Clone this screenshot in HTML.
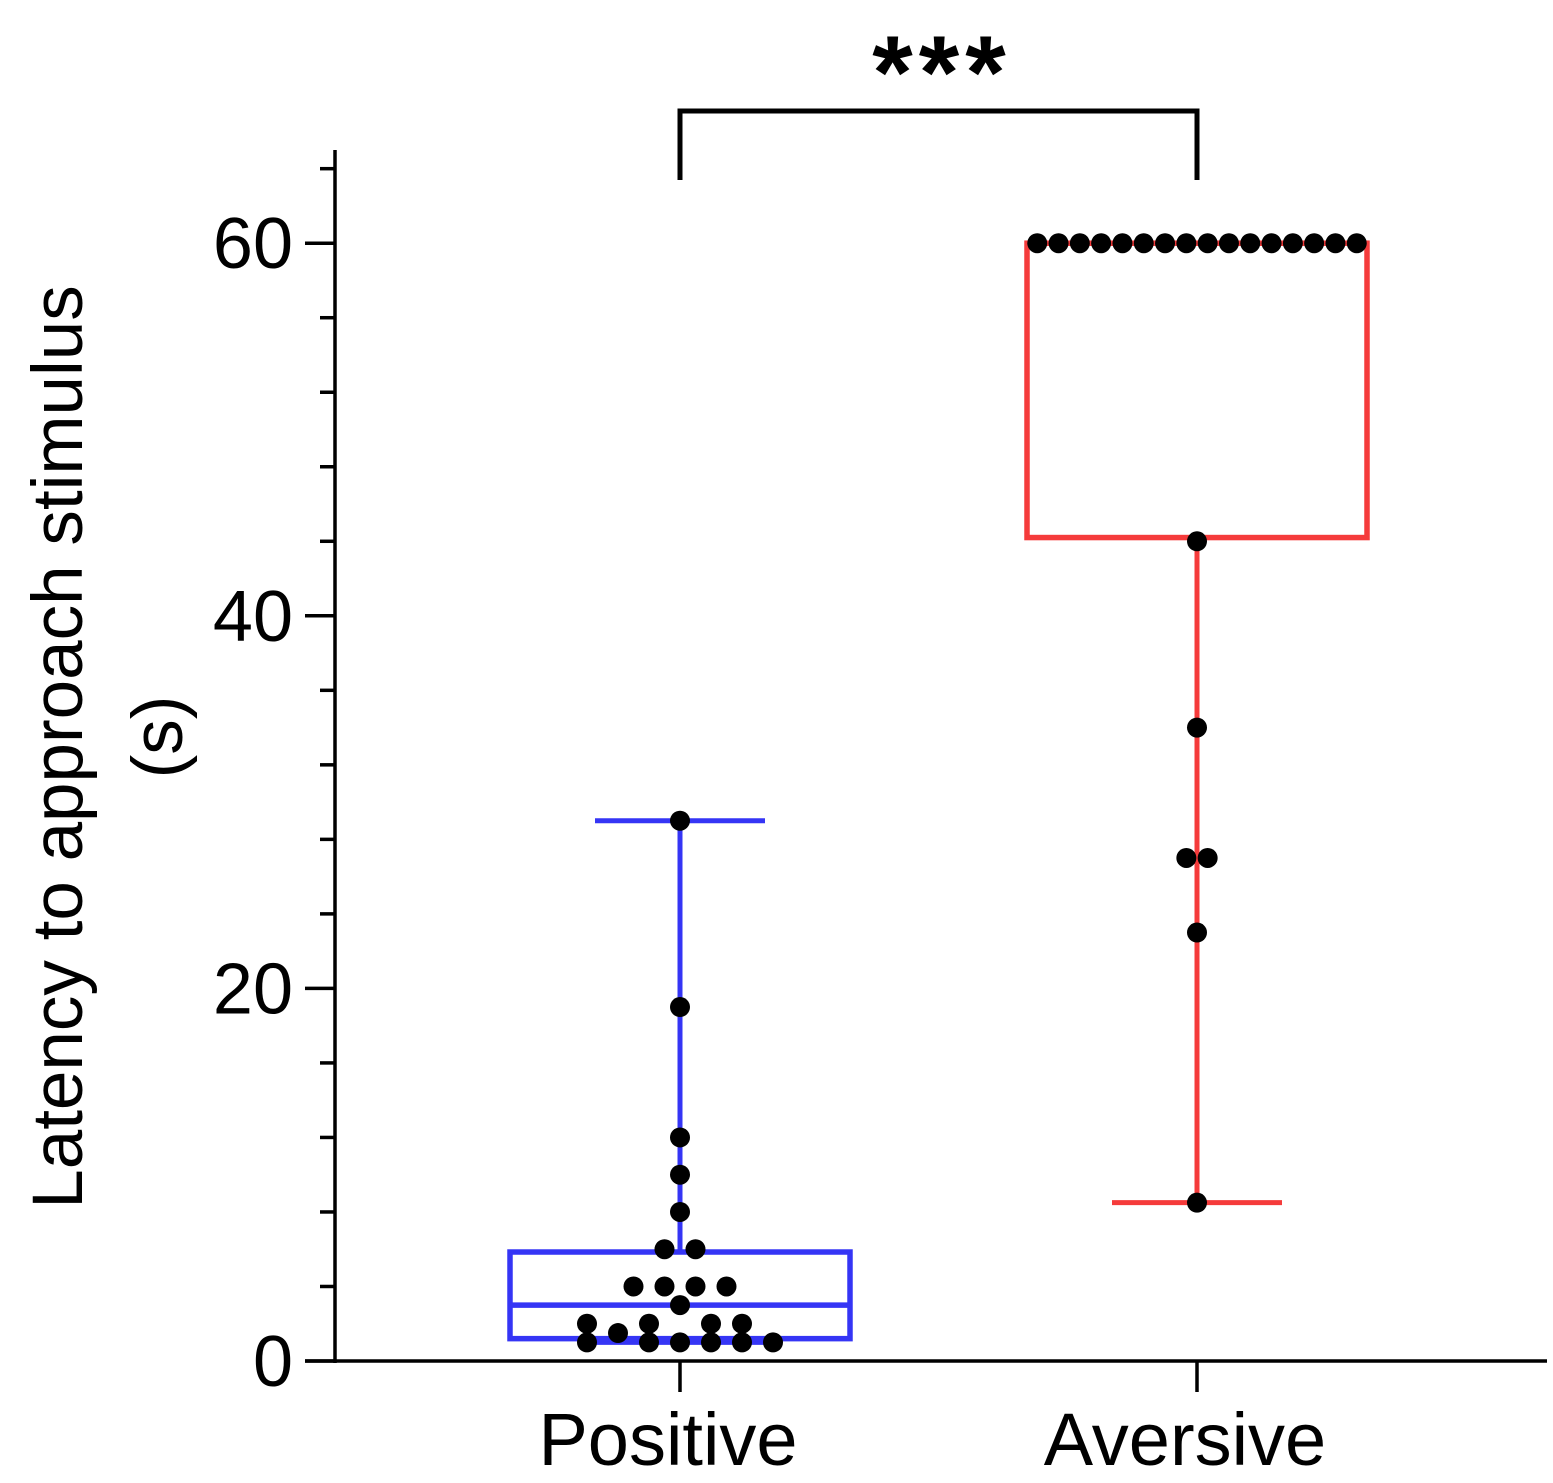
<!DOCTYPE html>
<html><head><meta charset="utf-8"><style>
body{margin:0;background:#fff}
svg{display:block;font-family:"Liberation Sans",sans-serif}
</style></head><body>
<svg id="chart" width="1553" height="1483" viewBox="0 0 1553 1483">
<g id="axes"></g>
<g id="marks"></g>
</svg>
<script>
const categories = ["Positive", "Aversive"];
const yTicks = [0, 20, 40, 60];
const yMinorTicks = [4, 8, 12, 16, 24, 28, 32, 36, 44, 48, 52, 56, 64];
// box stats: [whiskerLow, q1, median, q3, whiskerHigh]
const positiveStats = [1, 1.2, 3, 5.85, 29];
const aversiveStats = [8.5, 44.2, 60, 60, 60];
const positiveValues = [29, 19, 12, 10, 8, 6, 6, 4, 4, 4, 4, 3, 2, 2, 2, 2, 1.5, 1, 1, 1, 1, 1, 1];
const positiveSlots = [0, 0, 0, 0, 0, -0.5, 0.5, -1.5, -0.5, 0.5, 1.5, 0, -3, -1, 1, 2, -2, -3, -1, 0, 1, 2, 3];
const aversiveValues = [60,60,60,60,60,60,60,60,60,60,60,60,60,60,60,60, 44, 34, 27, 27, 23, 8.5];
const aversiveSlots = [-7.5,-6.5,-5.5,-4.5,-3.5,-2.5,-1.5,-0.5,0.5,1.5,2.5,3.5,4.5,5.5,6.5,7.5, 0, 0, -0.5, 0.5, 0, 0];
const significance = "***";

const NS = "http://www.w3.org/2000/svg";
const y = v => 1361 - v * 18.63;
const xCat = i => [680, 1197][i];
function mk(parent, tag, attrs) {
  const e = document.createElementNS(NS, tag);
  for (const k in attrs) e.setAttribute(k, attrs[k]);
  document.getElementById(parent).appendChild(e);
  return e;
}
let e;
e = mk("axes", "line", {x1:335, y1:150, x2:335, y2:1363, stroke:"#000", "stroke-width":3.5});


e = mk("axes", "line", {x1:305, y1:1361, x2:1547, y2:1361, stroke:"#000", "stroke-width":3.5});


yTicks.forEach(t => {
  e = mk("axes", "line", {x1:305, y1:y(t), x2:335, y2:y(t), stroke:"#000", "stroke-width":3.5});
  
  
  e = mk("axes", "text", {x:293, y:y(t)+25, "text-anchor":"end", "font-size":72});
  e.textContent = t;
  
  
});
yMinorTicks.forEach(t => {
  e = mk("axes", "line", {x1:320, y1:y(t), x2:335, y2:y(t), stroke:"#000", "stroke-width":3.5});
  
  
});
categories.forEach((c, i) => {
  e = mk("axes", "line", {x1:xCat(i), y1:1361, x2:xCat(i), y2:1392, stroke:"#000", "stroke-width":3.5});
  
  
  e = mk("axes", "text", {x:xCat(i)-12, y:1465, "text-anchor":"middle", "font-size":74});
  e.textContent = c;
  
  
});
e = mk("axes", "text", {transform:"translate(82,747) rotate(-90)", "text-anchor":"middle", "font-size":71});
e.textContent = "Latency to approach stimulus";


e = mk("axes", "text", {transform:"translate(182,737) rotate(-90)", "text-anchor":"middle", "font-size":71});
e.textContent = "(s)";



function box(i, s, color, halfW, capW, name) {
  const cx = xCat(i);
  e = mk("marks", "line", {x1:cx, y1:y(s[0]), x2:cx, y2:y(s[4]), stroke:color, "stroke-width":5});
  
  
  e = mk("marks", "line", {x1:cx-capW, y1:y(s[0]), x2:cx+capW, y2:y(s[0]), stroke:color, "stroke-width":5});
  
  
  e = mk("marks", "line", {x1:cx-capW, y1:y(s[4]), x2:cx+capW, y2:y(s[4]), stroke:color, "stroke-width":5});
  
  
  e = mk("marks", "rect", {x:cx-halfW, y:y(s[3]), width:2*halfW, height:y(s[1])-y(s[3]), fill:"#fff", stroke:color, "stroke-width":5.5});
  
  
  e = mk("marks", "line", {x1:cx-halfW, y1:y(s[2]), x2:cx+halfW, y2:y(s[2]), stroke:color, "stroke-width":5.5});
  
  
}
box(0, positiveStats, "#3535f5", 170, 85, "positive");
box(1, aversiveStats, "#f53b3b", 170, 85, "aversive");
function dots(i, vals, slots, step, name) {
  vals.forEach((v, k) => {
    e = mk("marks", "circle", {cx:xCat(i) + slots[k]*step, cy:y(v), r:10, fill:"#000"});
    
    
  });
}
dots(0, positiveValues, positiveSlots, 31, "positive");
dots(1, aversiveValues, aversiveSlots, 21.3, "aversive");

e = mk("marks", "path", {d:"M680 180 V111 H1197 V180", fill:"none", stroke:"#000", "stroke-width":5});


e = mk("marks", "text", {x:942, y:108, "text-anchor":"middle", "font-size":104, "font-weight":"bold", "letter-spacing":"6"});
e.textContent = significance;


</script>
</body></html>
